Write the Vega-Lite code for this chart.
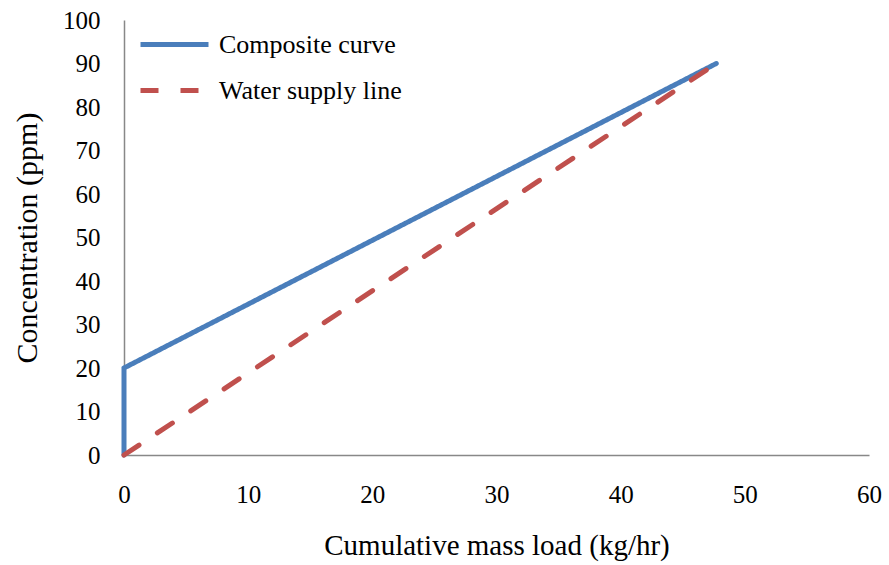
{
  "$schema": "https://vega.github.io/schema/vega-lite/v6.json",
  "width": 745,
  "height": 435,
  "autosize": "none",
  "padding": {"left": 124, "top": 20, "right": 20, "bottom": 110},
  "background": "white",
  "config": {
    "font": "Liberation Serif",
    "view": {"stroke": null}
  },
  "data": {
    "values": [
      {"series": "Composite curve", "order": 1, "load": 0, "conc": 0},
      {"series": "Composite curve", "order": 2, "load": 0, "conc": 20},
      {"series": "Composite curve", "order": 3, "load": 47.7, "conc": 90},
      {"series": "Water supply line", "order": 1, "load": 0, "conc": 0},
      {"series": "Water supply line", "order": 2, "load": 47.7, "conc": 90}
    ]
  },
  "mark": {"type": "line", "strokeWidth": 5, "strokeCap": "round", "strokeJoin": "miter"},
  "encoding": {
    "x": {
      "field": "load", "type": "quantitative",
      "scale": {"domain": [0, 60], "nice": false},
      "axis": {
        "title": "Cumulative mass load (kg/hr)",
        "values": [0, 10, 20, 30, 40, 50, 60],
        "grid": false, "ticks": false, "domainColor": "#888888", "domainWidth": 1.5,
        "labelFont": "Liberation Serif", "labelFontSize": 25, "labelColor": "#000000",
        "labelPadding": 27, "labelFlush": false,
        "titleFont": "Liberation Serif", "titleFontSize": 29, "titleFontWeight": "normal",
        "titleColor": "#000000", "titlePadding": 24
      }
    },
    "y": {
      "field": "conc", "type": "quantitative",
      "scale": {"domain": [0, 100], "nice": false},
      "axis": {
        "title": "Concentration (ppm)",
        "values": [0, 10, 20, 30, 40, 50, 60, 70, 80, 90, 100],
        "grid": false, "ticks": false, "domainColor": "#888888", "domainWidth": 1.5,
        "labelFont": "Liberation Serif", "labelFontSize": 25, "labelColor": "#000000",
        "labelPadding": 24, "labelFlush": false,
        "titleFont": "Liberation Serif", "titleFontSize": 30, "titleFontWeight": "normal",
        "titleColor": "#000000", "titlePadding": 20
      }
    },
    "order": {"field": "order"},
    "color": {
      "field": "series", "type": "nominal",
      "scale": {"domain": ["Composite curve", "Water supply line"], "range": ["#4A7EBB", "#C0504D"]},
      "legend": {
        "title": null, "orient": "none", "legendX": 14, "legendY": 5,
        "symbolType": "M-1,0H3", "symbolSize": 1156, "symbolStrokeWidth": 5,
        "labelFont": "Liberation Serif", "labelFontSize": 26, "labelColor": "#000000",
        "labelLimit": 0,
        "rowPadding": 13, "labelOffset": 42
      }
    },
    "strokeDash": {
      "field": "series", "type": "nominal",
      "scale": {"domain": ["Composite curve", "Water supply line"], "range": [[1, 0], [18, 22]]},
      "legend": null
    }
  }
}
